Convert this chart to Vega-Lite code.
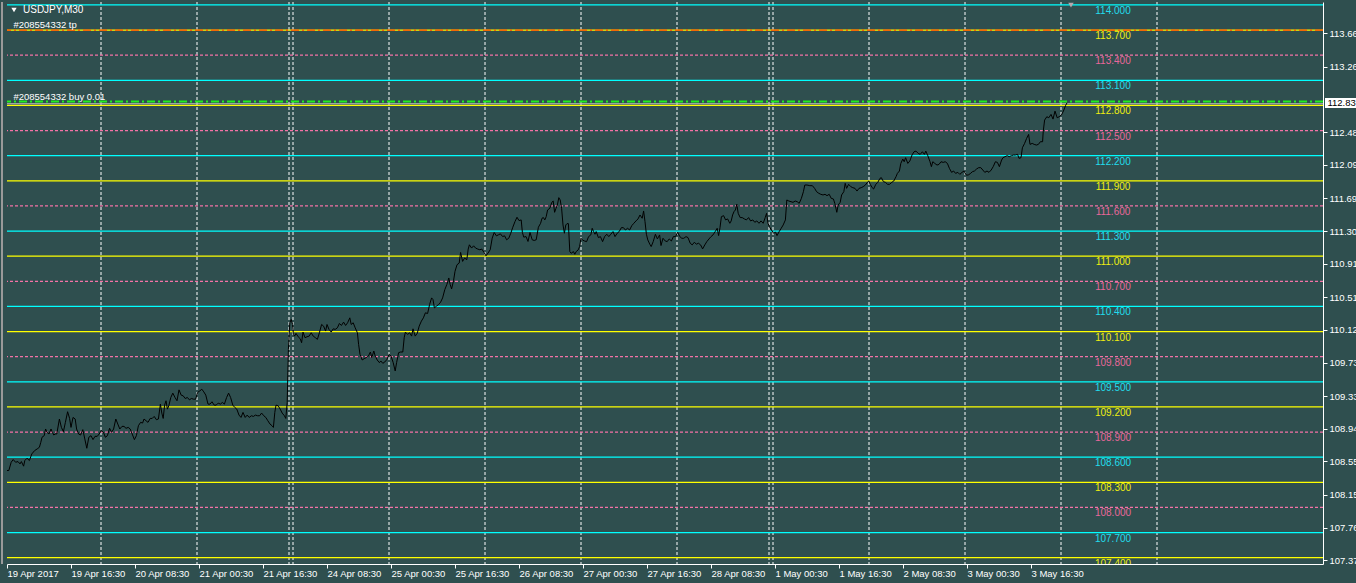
{
"$schema": "https://vega.github.io/schema/vega-lite/v6.json",
"width": 1316, "height": 562,
"autosize": {"type": "none"},
"padding": {"left": 7, "top": 2, "right": 33, "bottom": 19},
"background": "#2F4F4F",
"config": {"view": {"stroke": null, "fill": "#2F4F4F"}, "font": "Liberation Sans"},
"resolve": {"axis": {"x": "independent", "y": "independent"}},
"datasets": {
"grid": [{"bar":47},{"bar":95},{"bar":141},{"bar":143},{"bar":191},{"bar":239},{"bar":287},{"bar":335},{"bar":381},{"bar":383},{"bar":431},{"bar":479},{"bar":527},{"bar":575}],
"levels": [
{"price":114.0,"kind":"c"},{"price":113.7,"kind":"y"},{"price":113.4,"kind":"p"},{"price":113.1,"kind":"c"},{"price":112.8,"kind":"y"},{"price":112.5,"kind":"p"},{"price":112.2,"kind":"c"},{"price":111.9,"kind":"y"},{"price":111.6,"kind":"p"},{"price":111.3,"kind":"c"},{"price":111.0,"kind":"y"},{"price":110.7,"kind":"p"},{"price":110.4,"kind":"c"},{"price":110.1,"kind":"y"},{"price":109.8,"kind":"p"},{"price":109.5,"kind":"c"},{"price":109.2,"kind":"y"},{"price":108.9,"kind":"p"},{"price":108.6,"kind":"c"},{"price":108.3,"kind":"y"},{"price":108.0,"kind":"p"},{"price":107.7,"kind":"c"},{"price":107.4,"kind":"y"}],
"prices": [
{"bar":0,"price":108.441},{"bar":0.9,"price":108.441},{"bar":2.1,"price":108.54},{"bar":3.1,"price":108.572},{"bar":4.3,"price":108.54},{"bar":5.5,"price":108.548},{"bar":6.5,"price":108.52},{"bar":7.2,"price":108.548},{"bar":8.3,"price":108.493},{"bar":8.9,"price":108.56},{"bar":10.0,"price":108.588},{"bar":11.2,"price":108.56},{"bar":12.4,"price":108.639},{"bar":13.8,"price":108.679},{"bar":15.1,"price":108.699},{"bar":16.2,"price":108.719},{"bar":16.9,"price":108.778},{"bar":17.5,"price":108.838},{"bar":18.6,"price":108.857},{"bar":19.3,"price":108.937},{"bar":20.0,"price":108.897},{"bar":21.0,"price":108.877},{"bar":22.0,"price":108.937},{"bar":22.7,"price":108.897},{"bar":23.4,"price":108.865},{"bar":24.1,"price":108.877},{"bar":24.9,"price":108.877},{"bar":26.2,"price":109.056},{"bar":27.2,"price":108.956},{"bar":28.2,"price":108.905},{"bar":29.2,"price":109.016},{"bar":30.3,"price":109.143},{"bar":31.3,"price":109.063},{"bar":32.0,"price":108.956},{"bar":33.0,"price":109.075},{"bar":34.1,"price":109.056},{"bar":34.8,"price":108.937},{"bar":35.8,"price":108.877},{"bar":36.8,"price":108.865},{"bar":37.9,"price":108.929},{"bar":38.9,"price":108.818},{"bar":39.9,"price":108.707},{"bar":40.9,"price":108.838},{"bar":42.0,"price":108.857},{"bar":43.0,"price":108.81},{"bar":44.0,"price":108.849},{"bar":45.1,"price":108.849},{"bar":46.1,"price":108.877},{"bar":47.1,"price":108.917},{"bar":48.2,"price":108.897},{"bar":49.2,"price":108.838},{"bar":50.2,"price":108.857},{"bar":51.3,"price":108.945},{"bar":52.3,"price":108.897},{"bar":53.3,"price":108.937},{"bar":54.4,"price":109.056},{"bar":55.4,"price":108.996},{"bar":56.4,"price":108.937},{"bar":57.5,"price":108.968},{"bar":58.5,"price":108.968},{"bar":59.5,"price":108.945},{"bar":60.6,"price":108.956},{"bar":61.6,"price":108.937},{"bar":62.6,"price":108.877},{"bar":63.7,"price":108.81},{"bar":64.7,"price":108.857},{"bar":65.7,"price":108.976},{"bar":66.8,"price":109.016},{"bar":67.8,"price":109.008},{"bar":68.5,"price":109.056},{"bar":69.5,"price":109.036},{"bar":70.5,"price":109.016},{"bar":71.6,"price":109.063},{"bar":72.6,"price":109.063},{"bar":73.6,"price":109.087},{"bar":74.7,"price":109.048},{"bar":75.7,"price":109.056},{"bar":76.7,"price":109.234},{"bar":77.4,"price":109.127},{"bar":78.1,"price":109.063},{"bar":78.8,"price":109.222},{"bar":79.5,"price":109.274},{"bar":80.2,"price":109.174},{"bar":80.9,"price":109.214},{"bar":81.9,"price":109.313},{"bar":82.9,"price":109.365},{"bar":84.0,"price":109.313},{"bar":85.0,"price":109.274},{"bar":86.0,"price":109.404},{"bar":87.1,"price":109.341},{"bar":88.1,"price":109.333},{"bar":89.1,"price":109.301},{"bar":90.2,"price":109.313},{"bar":91.2,"price":109.285},{"bar":92.2,"price":109.301},{"bar":93.3,"price":109.293},{"bar":94.3,"price":109.293},{"bar":95.3,"price":109.373},{"bar":96.4,"price":109.392},{"bar":97.4,"price":109.412},{"bar":98.4,"price":109.38},{"bar":99.4,"price":109.341},{"bar":100.5,"price":109.234},{"bar":101.5,"price":109.234},{"bar":102.5,"price":109.262},{"bar":103.6,"price":109.222},{"bar":104.6,"price":109.222},{"bar":105.6,"price":109.246},{"bar":106.7,"price":109.234},{"bar":107.7,"price":109.254},{"bar":108.7,"price":109.234},{"bar":109.8,"price":109.313},{"bar":110.8,"price":109.365},{"bar":111.8,"price":109.313},{"bar":112.9,"price":109.222},{"bar":113.9,"price":109.194},{"bar":114.9,"price":109.174},{"bar":116.0,"price":109.103},{"bar":117.0,"price":109.075},{"bar":118.0,"price":109.135},{"bar":119.1,"price":109.075},{"bar":120.1,"price":109.103},{"bar":121.1,"price":109.075},{"bar":122.2,"price":109.095},{"bar":123.2,"price":109.087},{"bar":124.2,"price":109.103},{"bar":125.3,"price":109.095},{"bar":126.3,"price":109.095},{"bar":127.3,"price":109.127},{"bar":128.4,"price":109.095},{"bar":129.4,"price":109.075},{"bar":130.4,"price":109.036},{"bar":131.5,"price":108.996},{"bar":132.5,"price":108.976},{"bar":133.2,"price":108.956},{"bar":133.9,"price":109.135},{"bar":134.5,"price":109.222},{"bar":135.6,"price":109.214},{"bar":136.6,"price":109.174},{"bar":137.6,"price":109.127},{"bar":138.7,"price":109.095},{"bar":139.4,"price":109.063},{"bar":140.1,"price":109.254},{"bar":140.4,"price":109.571},{"bar":140.7,"price":109.888},{"bar":141.4,"price":110.205},{"bar":142.1,"price":110.244},{"bar":142.8,"price":110.185},{"bar":143.2,"price":110.066},{"bar":143.8,"price":110.046},{"bar":144.5,"price":110.078},{"bar":145.6,"price":110.038},{"bar":146.6,"price":110.015},{"bar":147.3,"price":109.967},{"bar":148.0,"price":110.094},{"bar":149.0,"price":110.027},{"bar":150.0,"price":110.038},{"bar":151.1,"price":110.046},{"bar":152.1,"price":110.086},{"bar":153.1,"price":110.046},{"bar":154.2,"price":110.027},{"bar":155.2,"price":110.007},{"bar":156.2,"price":110.086},{"bar":157.3,"price":110.185},{"bar":158.3,"price":110.165},{"bar":159.3,"price":110.106},{"bar":160.0,"price":110.185},{"bar":161.0,"price":110.126},{"bar":162.1,"price":110.094},{"bar":163.1,"price":110.133},{"bar":164.1,"price":110.126},{"bar":165.2,"price":110.145},{"bar":166.2,"price":110.197},{"bar":167.2,"price":110.173},{"bar":168.3,"price":110.213},{"bar":169.3,"price":110.173},{"bar":170.3,"price":110.205},{"bar":171.4,"price":110.264},{"bar":172.1,"price":110.185},{"bar":173.1,"price":110.205},{"bar":174.1,"price":110.145},{"bar":175.2,"price":110.086},{"bar":175.8,"price":109.947},{"bar":176.5,"price":109.828},{"bar":177.6,"price":109.761},{"bar":178.6,"price":109.777},{"bar":179.6,"price":109.789},{"bar":180.7,"price":109.808},{"bar":181.7,"price":109.856},{"bar":182.4,"price":109.789},{"bar":183.4,"price":109.868},{"bar":184.1,"price":109.808},{"bar":185.1,"price":109.761},{"bar":186.2,"price":109.729},{"bar":186.9,"price":109.749},{"bar":187.9,"price":109.721},{"bar":188.9,"price":109.737},{"bar":190.0,"price":109.769},{"bar":191.0,"price":109.828},{"bar":192.0,"price":109.808},{"bar":193.1,"price":109.729},{"bar":194.1,"price":109.63},{"bar":194.8,"price":109.729},{"bar":195.8,"price":109.848},{"bar":196.8,"price":109.856},{"bar":197.9,"price":109.856},{"bar":198.6,"price":110.027},{"bar":199.2,"price":110.094},{"bar":200.3,"price":110.066},{"bar":201.3,"price":110.086},{"bar":202.3,"price":110.046},{"bar":203.0,"price":110.133},{"bar":204.1,"price":110.046},{"bar":205.1,"price":110.078},{"bar":206.1,"price":110.165},{"bar":207.2,"price":110.225},{"bar":208.2,"price":110.264},{"bar":209.2,"price":110.324},{"bar":210.3,"price":110.316},{"bar":211.3,"price":110.423},{"bar":212.3,"price":110.502},{"bar":213.0,"price":110.482},{"bar":213.7,"price":110.383},{"bar":214.7,"price":110.403},{"bar":215.8,"price":110.423},{"bar":216.8,"price":110.451},{"bar":217.8,"price":110.502},{"bar":218.9,"price":110.601},{"bar":219.9,"price":110.661},{"bar":220.9,"price":110.74},{"bar":221.6,"price":110.661},{"bar":222.3,"price":110.609},{"bar":223.3,"price":110.712},{"bar":224.0,"price":110.819},{"bar":225.0,"price":110.898},{"bar":226.1,"price":110.918},{"bar":226.8,"price":111.045},{"bar":227.8,"price":110.938},{"bar":228.8,"price":110.978},{"bar":229.9,"price":110.958},{"bar":230.6,"price":111.085},{"bar":231.2,"price":111.136},{"bar":232.3,"price":111.097},{"bar":233.3,"price":111.124},{"bar":234.3,"price":111.097},{"bar":235.4,"price":111.085},{"bar":236.4,"price":111.077},{"bar":237.4,"price":111.085},{"bar":238.5,"price":111.045},{"bar":239.5,"price":111.005},{"bar":240.5,"price":111.037},{"bar":241.6,"price":111.077},{"bar":242.6,"price":111.215},{"bar":243.6,"price":111.283},{"bar":244.7,"price":111.243},{"bar":245.7,"price":111.255},{"bar":246.7,"price":111.267},{"bar":247.8,"price":111.235},{"bar":248.8,"price":111.243},{"bar":249.8,"price":111.196},{"bar":250.9,"price":111.215},{"bar":251.9,"price":111.275},{"bar":252.9,"price":111.346},{"bar":254.0,"price":111.414},{"bar":255.0,"price":111.465},{"bar":256.0,"price":111.425},{"bar":257.1,"price":111.433},{"bar":257.7,"price":111.283},{"bar":258.4,"price":111.227},{"bar":259.5,"price":111.235},{"bar":260.5,"price":111.176},{"bar":261.5,"price":111.283},{"bar":262.6,"price":111.196},{"bar":263.6,"price":111.188},{"bar":264.6,"price":111.196},{"bar":265.7,"price":111.346},
{"bar":266.8,"price":111.393},{"bar":267.5,"price":111.453},{"bar":268.2,"price":111.461},{"bar":268.9,"price":111.433},{"bar":269.6,"price":111.472},{"bar":270.3,"price":111.552},{"bar":271.4,"price":111.572},{"bar":272.4,"price":111.643},{"bar":273.1,"price":111.659},{"bar":273.8,"price":111.524},{"bar":274.5,"price":111.572},{"bar":275.2,"price":111.612},{"bar":275.9,"price":111.699},{"bar":276.6,"price":111.671},{"bar":277.3,"price":111.572},{"bar":278.0,"price":111.373},{"bar":278.7,"price":111.274},{"bar":279.4,"price":111.373},{"bar":280.0,"price":111.389},{"bar":280.7,"price":111.389},{"bar":281.4,"price":111.055},{"bar":282.1,"price":111.035},{"bar":283.2,"price":111.055},{"bar":283.9,"price":111.023},{"bar":284.6,"price":111.055},{"bar":285.6,"price":111.075},{"bar":286.3,"price":111.115},{"bar":287.0,"price":111.214},{"bar":287.7,"price":111.194},{"bar":288.7,"price":111.182},{"bar":289.8,"price":111.174},{"bar":290.8,"price":111.234},{"bar":291.9,"price":111.254},{"bar":292.6,"price":111.333},{"bar":293.3,"price":111.294},{"bar":294.0,"price":111.262},{"bar":294.6,"price":111.294},{"bar":295.7,"price":111.222},{"bar":296.7,"price":111.234},{"bar":297.8,"price":111.174},{"bar":298.8,"price":111.234},{"bar":299.9,"price":111.262},{"bar":300.9,"price":111.234},{"bar":301.9,"price":111.262},{"bar":303.0,"price":111.294},{"bar":304.0,"price":111.234},{"bar":305.1,"price":111.274},{"bar":306.1,"price":111.294},{"bar":307.2,"price":111.341},{"bar":308.2,"price":111.341},{"bar":309.2,"price":111.313},{"bar":310.3,"price":111.333},{"bar":311.3,"price":111.313},{"bar":312.4,"price":111.365},{"bar":313.4,"price":111.393},{"bar":314.5,"price":111.421},{"bar":315.5,"price":111.445},{"bar":316.5,"price":111.492},{"bar":317.6,"price":111.453},{"bar":318.3,"price":111.54},{"bar":319.0,"price":111.413},{"bar":319.7,"price":111.262},{"bar":320.4,"price":111.194},{"bar":321.4,"price":111.143},{"bar":322.1,"price":111.115},{"bar":323.1,"price":111.174},{"bar":324.2,"price":111.262},{"bar":325.2,"price":111.206},{"bar":326.3,"price":111.254},{"bar":327.0,"price":111.127},{"bar":328.0,"price":111.214},{"bar":329.1,"price":111.182},{"bar":330.1,"price":111.174},{"bar":331.1,"price":111.206},{"bar":332.2,"price":111.182},{"bar":333.2,"price":111.234},{"bar":334.3,"price":111.234},{"bar":335.3,"price":111.286},{"bar":336.4,"price":111.234},{"bar":337.4,"price":111.214},{"bar":338.4,"price":111.214},{"bar":339.5,"price":111.234},{"bar":340.5,"price":111.222},{"bar":341.6,"price":111.155},{"bar":342.6,"price":111.135},{"bar":343.7,"price":111.167},{"bar":344.7,"price":111.143},{"bar":345.7,"price":111.155},{"bar":346.8,"price":111.135},{"bar":347.8,"price":111.087},{"bar":348.9,"price":111.135},{"bar":349.9,"price":111.174},{"bar":351.0,"price":111.206},{"bar":352.0,"price":111.234},{"bar":353.0,"price":111.254},{"bar":354.1,"price":111.294},{"bar":355.1,"price":111.333},{"bar":355.8,"price":111.246},{"bar":356.5,"price":111.341},{"bar":357.2,"price":111.472},{"bar":358.3,"price":111.484},{"bar":359.3,"price":111.433},{"bar":360.3,"price":111.445},{"bar":361.4,"price":111.393},{"bar":362.1,"price":111.421},{"bar":362.8,"price":111.492},{"bar":363.5,"price":111.532},{"bar":364.2,"price":111.552},{"bar":364.9,"price":111.62},{"bar":365.6,"price":111.512},{"bar":366.6,"price":111.461},{"bar":367.6,"price":111.461},{"bar":368.7,"price":111.445},{"bar":369.7,"price":111.433},{"bar":370.8,"price":111.461},{"bar":371.8,"price":111.421},{"bar":372.9,"price":111.433},{"bar":373.9,"price":111.405},{"bar":374.9,"price":111.421},{"bar":376.0,"price":111.393},{"bar":377.0,"price":111.421},{"bar":378.1,"price":111.393},{"bar":379.1,"price":111.461},{"bar":379.8,"price":111.512},{"bar":380.5,"price":111.393},{"bar":381.2,"price":111.353},{"bar":382.2,"price":111.313},{"bar":383.3,"price":111.274},{"bar":384.3,"price":111.286},{"bar":385.0,"price":111.246},{"bar":386.1,"price":111.294},{"bar":387.1,"price":111.333},{"bar":388.1,"price":111.373},{"bar":389.2,"price":111.433},{"bar":389.9,"price":111.671},{"bar":390.9,"price":111.659},{"bar":392.0,"price":111.651},{"bar":393.0,"price":111.643},{"bar":394.1,"price":111.659},{"bar":395.1,"price":111.651},{"bar":396.1,"price":111.631},{"bar":397.2,"price":111.691},{"bar":398.2,"price":111.77},{"bar":398.9,"price":111.85},{"bar":400.0,"price":111.85},{"bar":401.4,"price":111.842},{"bar":402.7,"price":111.842},{"bar":403.8,"price":111.81},{"bar":404.8,"price":111.77},{"bar":405.9,"price":111.751},{"bar":406.9,"price":111.739},{"bar":408.0,"price":111.731},{"bar":409.0,"price":111.739},{"bar":410.0,"price":111.723},{"bar":411.1,"price":111.739},{"bar":412.1,"price":111.691},{"bar":413.2,"price":111.683},{"bar":413.9,"price":111.631},{"bar":414.9,"price":111.524},{"bar":415.6,"price":111.612},{"bar":416.6,"price":111.643},{"bar":417.3,"price":111.731},{"bar":418.4,"price":111.77},{"bar":419.1,"price":111.87},{"bar":419.8,"price":111.81},{"bar":420.8,"price":111.858},{"bar":421.9,"price":111.83},{"bar":422.9,"price":111.818},{"bar":424.0,"price":111.81},{"bar":425.0,"price":111.778},{"bar":426.0,"price":111.81},{"bar":427.1,"price":111.818},{"bar":428.1,"price":111.83},{"bar":429.2,"price":111.85},{"bar":430.2,"price":111.882},{"bar":430.9,"price":111.898},{"bar":431.6,"price":111.858},{"bar":432.6,"price":111.818},{"bar":433.3,"price":111.802},{"bar":434.4,"price":111.858},{"bar":435.4,"price":111.882},{"bar":436.5,"price":111.93},{"bar":437.2,"price":111.937},{"bar":438.2,"price":111.89},{"bar":439.2,"price":111.882},{"bar":440.3,"price":111.858},{"bar":441.3,"price":111.858},{"bar":442.4,"price":111.882},{"bar":443.4,"price":111.898},{"bar":444.5,"price":111.949},{"bar":445.2,"price":111.989},{"bar":446.2,"price":112.017},{"bar":446.9,"price":112.108},{"bar":447.9,"price":112.16},{"bar":448.6,"price":112.128},{"bar":449.3,"price":112.176},{"bar":450.4,"price":112.108},{"bar":451.4,"price":112.136},{"bar":452.5,"price":112.208},{"bar":453.5,"price":112.247},{"bar":454.5,"price":112.255},{"bar":455.6,"price":112.228},{"bar":456.6,"price":112.216},{"bar":457.7,"price":112.247},{"bar":458.7,"price":112.216},{"bar":459.4,"price":112.255},{"bar":460.4,"price":112.2},{"bar":461.5,"price":112.128},{"bar":462.2,"price":112.069},{"bar":462.9,"price":112.128},{"bar":463.9,"price":112.108},{"bar":465.0,"price":112.088},{"bar":466.0,"price":112.096},{"bar":467.0,"price":112.128},{"bar":468.1,"price":112.12},{"bar":469.1,"price":112.128},{"bar":470.2,"price":112.108},{"bar":471.2,"price":112.049},{"bar":472.3,"price":112.001},{"bar":473.3,"price":112.017},{"bar":474.3,"price":111.989},{"bar":475.4,"price":112.001},{"bar":476.4,"price":111.977},{"bar":477.5,"price":112.001},{"bar":478.5,"price":112.017},{"bar":479.6,"price":111.969},{"bar":480.6,"price":111.969},{"bar":481.6,"price":111.985},{"bar":482.7,"price":112.009},{"bar":483.7,"price":112.017},{"bar":484.8,"price":112.041},{"bar":485.8,"price":112.057},{"bar":486.9,"price":112.057},{"bar":487.9,"price":112.029},{"bar":488.9,"price":112.001},{"bar":490.0,"price":112.017},{"bar":491.0,"price":112.001},{"bar":492.1,"price":112.029},{"bar":493.1,"price":112.069},{"bar":494.2,"price":112.128},{"bar":495.2,"price":112.12},{"bar":496.2,"price":112.069},{"bar":497.3,"price":112.148},{"bar":498.0,"price":112.176},{"bar":499.0,"price":112.188},{"bar":500.1,"price":112.2},{"bar":501.1,"price":112.188},{"bar":502.2,"price":112.2},{"bar":503.2,"price":112.208},{"bar":504.2,"price":112.208},{"bar":505.3,"price":112.216},{"bar":506.0,"price":112.168},{"bar":507.0,"price":112.176},{"bar":507.7,"price":112.295},{"bar":508.8,"price":112.347},{"bar":509.8,"price":112.406},{"bar":510.8,"price":112.454},{"bar":511.5,"price":112.335},{"bar":512.6,"price":112.347},{"bar":513.6,"price":112.335},{"bar":514.7,"price":112.327},{"bar":515.7,"price":112.335},{"bar":516.7,"price":112.367},{"bar":517.8,"price":112.367},{"bar":518.1,"price":112.486},{"bar":518.8,"price":112.625},{"bar":519.9,"price":112.665},{"bar":520.9,"price":112.653},{"bar":522.0,"price":112.693},{"bar":523.0,"price":112.637},{"bar":524.0,"price":112.732},{"bar":525.1,"price":112.653},{"bar":526.1,"price":112.665},{"bar":527.2,"price":112.685},{"bar":528.2,"price":112.732},{"bar":529.3,"price":112.8},{"bar":530.0,"price":112.83}]
},
"layer": [
{"data": {"values": [{}]}, "mark": {"type": "rule", "color": "#9A9A9A", "strokeWidth": 2, "clip": false},
 "encoding": {"x": {"datum": -2.5, "type": "quantitative", "scale": {"domain": [0, 658], "nice": false, "zero": false}, "axis": null}}},
{"data": {"name": "grid"}, "mark": {"type": "rule", "color": "#FFFFFF", "strokeDash": [3, 2], "strokeWidth": 1},
 "encoding": {"x": {"field": "bar", "type": "quantitative", "scale": {"domain": [0, 658], "nice": false, "zero": false}, "axis": null}}},
{"data": {"name": "levels"}, "transform": [{"filter": "datum.kind != 'p'"}], "mark": {"type": "rule", "strokeWidth": 1.2},
 "encoding": {"y": {"field": "price", "type": "quantitative", "scale": {"domain": [107.325, 114.035], "nice": false, "zero": false}, "axis": null},
  "stroke": {"field": "kind", "type": "nominal", "scale": {"domain": ["c", "y", "p"], "range": ["#00FFFF", "#FFFF00", "#F472A6"]}, "legend": null}}},
{"data": {"name": "levels"}, "transform": [{"filter": "datum.kind == 'p'"}], "mark": {"type": "rule", "strokeWidth": 1.2, "strokeDash": [3, 2]},
 "encoding": {"y": {"field": "price", "type": "quantitative", "scale": {"domain": [107.325, 114.035], "nice": false, "zero": false}, "axis": null},
  "stroke": {"field": "kind", "type": "nominal", "scale": {"domain": ["c", "y", "p"], "range": ["#00FFFF", "#FFFF00", "#F472A6"]}, "legend": null}}},
{"data": {"values": [{}]}, "mark": {"type": "rule", "color": "#FF4500", "strokeWidth": 1.2, "strokeDash": [8, 3, 2, 3]},
 "encoding": {"y": {"datum": 113.7, "type": "quantitative", "scale": {"domain": [107.325, 114.035], "nice": false, "zero": false}, "axis": null}}},
{"data": {"values": [{}]}, "mark": {"type": "rule", "color": "#C0C0C0", "strokeWidth": 1},
 "encoding": {"y": {"datum": 112.82, "type": "quantitative", "scale": {"domain": [107.325, 114.035], "nice": false, "zero": false}, "axis": null}}},
{"data": {"values": [{}]}, "mark": {"type": "rule", "color": "#22EE22", "strokeWidth": 1.8, "strokeDash": [8, 3, 2, 3]},
 "encoding": {"y": {"datum": 112.847, "type": "quantitative", "scale": {"domain": [107.325, 114.035], "nice": false, "zero": false}, "axis": null}}},
{"data": {"name": "prices"}, "mark": {"type": "line", "color": "#000000", "strokeWidth": 1},
 "encoding": {
  "x": {"field": "bar", "type": "quantitative", "scale": {"domain": [0, 658], "nice": false, "zero": false},
   "axis": {"orient": "bottom", "values": [0,32,64,96,128,160,192,224,256,288,320,352,384,416,448,480,512],
    "labelExpr": "['19 Apr 2017','19 Apr 16:30','20 Apr 08:30','21 Apr 00:30','21 Apr 16:30','24 Apr 08:30','25 Apr 00:30','25 Apr 16:30','26 Apr 08:30','27 Apr 00:30','27 Apr 16:30','28 Apr 08:30','1 May 00:30','1 May 16:30','2 May 08:30','3 May 00:30','3 May 16:30'][round(datum.value/32)]",
    "labelAlign": "left", "labelBaseline": "top", "labelPadding": 0.5, "tickSize": 4, "tickColor": "#FFFFFF", "domainColor": "#FFFFFF",
    "labelColor": "#FFFFFF", "labelFont": "Liberation Sans", "labelFontSize": 9.5, "grid": false, "title": null,
    "labelOverlap": false, "labelFlush": false, "labelBound": false}},
  "y": {"field": "price", "type": "quantitative", "scale": {"domain": [107.325, 114.035], "nice": false, "zero": false},
   "axis": {"orient": "right", "values": [113.66,113.26,112.48,112.09,111.69,111.30,110.91,110.51,110.12,109.73,109.33,108.94,108.55,108.15,107.76,107.37],
    "labelExpr": "format(datum.value, '.2f')", "tickSize": 4, "labelPadding": 2, "tickColor": "#FFFFFF", "domainColor": "#FFFFFF",
    "labelColor": "#FFFFFF", "labelFont": "Liberation Sans", "labelFontSize": 9.5, "grid": false, "title": null,
    "labelOverlap": false, "labelBound": false, "labelFlush": false}}
 }},
{"data": {"name": "levels"}, "mark": {"type": "text", "align": "center", "baseline": "top", "dy": 1, "fontSize": 10, "font": "Liberation Sans", "clip": true},
 "encoding": {"x": {"datum": 553, "type": "quantitative", "scale": {"domain": [0, 658], "nice": false, "zero": false}, "axis": null},
  "y": {"field": "price", "type": "quantitative", "scale": {"domain": [107.325, 114.035], "nice": false, "zero": false}, "axis": null},
  "text": {"field": "price", "type": "quantitative", "format": ".3f"},
  "fill": {"field": "kind", "type": "nominal", "scale": {"domain": ["c", "y", "p"], "range": ["#22DDEE", "#EEEE10", "#E8679A"]}, "legend": null}}},
{"data": {"values": [{}]}, "mark": {"type": "point", "shape": "triangle-down", "filled": true, "color": "#FFFFFF", "size": 28, "opacity": 1},
 "encoding": {"x": {"datum": 3.5, "type": "quantitative", "scale": {"domain": [0, 658], "nice": false, "zero": false}, "axis": null},
  "y": {"datum": 113.939, "type": "quantitative", "scale": {"domain": [107.325, 114.035], "nice": false, "zero": false}, "axis": null}}},
{"data": {"values": [{}]}, "mark": {"type": "text", "align": "left", "baseline": "middle", "fontSize": 10, "font": "Liberation Sans", "color": "#FFFFFF"},
 "encoding": {"x": {"datum": 8, "type": "quantitative", "scale": {"domain": [0, 658], "nice": false, "zero": false}, "axis": null},
  "y": {"datum": 113.939, "type": "quantitative", "scale": {"domain": [107.325, 114.035], "nice": false, "zero": false}, "axis": null},
  "text": {"value": "USDJPY,M30"}}},
{"data": {"values": [{}]}, "mark": {"type": "text", "align": "left", "baseline": "middle", "fontSize": 9.5, "font": "Liberation Sans", "color": "#FFFFFF"},
 "encoding": {"x": {"datum": 3.2, "type": "quantitative", "scale": {"domain": [0, 658], "nice": false, "zero": false}, "axis": null},
  "y": {"datum": 113.76, "type": "quantitative", "scale": {"domain": [107.325, 114.035], "nice": false, "zero": false}, "axis": null},
  "text": {"value": "#208554332 tp"}}},
{"data": {"values": [{}]}, "mark": {"type": "text", "align": "left", "baseline": "middle", "fontSize": 9.5, "font": "Liberation Sans", "color": "#FFFFFF"},
 "encoding": {"x": {"datum": 3.2, "type": "quantitative", "scale": {"domain": [0, 658], "nice": false, "zero": false}, "axis": null},
  "y": {"datum": 112.904, "type": "quantitative", "scale": {"domain": [107.325, 114.035], "nice": false, "zero": false}, "axis": null},
  "text": {"value": "#208554332 buy 0.01"}}},
{"data": {"values": [{}]}, "mark": {"type": "point", "shape": "triangle-down", "filled": true, "color": "#B8A8AE", "size": 30, "opacity": 1},
 "encoding": {"x": {"datum": 532, "type": "quantitative", "scale": {"domain": [0, 658], "nice": false, "zero": false}, "axis": null},
  "y": {"datum": 113.999, "type": "quantitative", "scale": {"domain": [107.325, 114.035], "nice": false, "zero": false}, "axis": null}}},
{"data": {"values": [{}]}, "mark": {"type": "rect", "color": "#FFFFFF", "clip": false},
 "encoding": {"x": {"datum": 659, "type": "quantitative", "scale": {"domain": [0, 658], "nice": false, "zero": false}, "axis": null},
  "x2": {"datum": 700},
  "y": {"datum": 112.889, "type": "quantitative", "scale": {"domain": [107.325, 114.035], "nice": false, "zero": false}, "axis": null},
  "y2": {"datum": 112.77}}},
{"data": {"values": [{}]}, "mark": {"type": "text", "align": "left", "baseline": "middle", "fontSize": 9.5, "font": "Liberation Sans", "color": "#000000", "clip": false},
 "encoding": {"x": {"datum": 660.2, "type": "quantitative", "scale": {"domain": [0, 658], "nice": false, "zero": false}, "axis": null},
  "y": {"datum": 112.829, "type": "quantitative", "scale": {"domain": [107.325, 114.035], "nice": false, "zero": false}, "axis": null},
  "text": {"value": "112.83"}}}
]
}
